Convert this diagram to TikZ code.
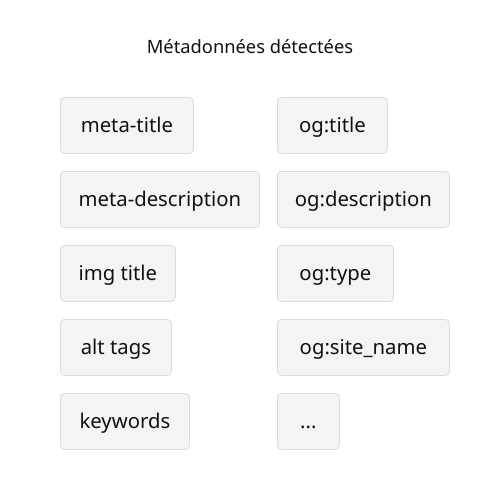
\documentclass[tikz,border=0pt]{standalone}
\usepackage{fontspec}
\setmainfont{Noto Sans}
\definecolor{boxfill}{HTML}{F4F4F4}
\definecolor{boxline}{HTML}{DCDCDC}
\definecolor{ink}{HTML}{111111}
\begin{document}
\begin{tikzpicture}[x=1pt,y=-1pt,
  tag/.style={draw=boxline, fill=boxfill, rounded corners=4pt, line width=0.8pt,
    minimum height=56pt, inner sep=0pt, anchor=north west, text=ink,
    text height=17pt, text depth=2pt,
    font=\fontsize{20.3}{24}\selectfont},
  heading/.style={text=ink, font=\fontsize{18.3}{22}\selectfont}]
\useasboundingbox[fill=white] (0,0) rectangle (500,500);
\node[heading] (title) at (250,47) {Métadonnées détectées};
% left column
\node[tag, minimum width=133pt] (l1) at (60,97) {meta-title};
\node[tag, minimum width=199pt] (l2) at (60,171) {meta-description};
\node[tag, minimum width=115pt] (l3) at (60,245) {img title};
\node[tag, minimum width=111pt] (l4) at (60,319) {alt tags};
\node[tag, minimum width=129pt] (l5) at (60,393) {keywords};
% right column
\node[tag, minimum width=110pt] (r1) at (277,97) {og:title};
\node[tag, minimum width=172pt] (r2) at (277,171) {og:description};
\node[tag, minimum width=116pt] (r3) at (277,245) {og:type};
\node[tag, minimum width=172pt] (r4) at (277,319) {og:site\_name};
\node[tag, minimum width=62pt] (r5) at (277,393) {...};
\end{tikzpicture}
\end{document}
